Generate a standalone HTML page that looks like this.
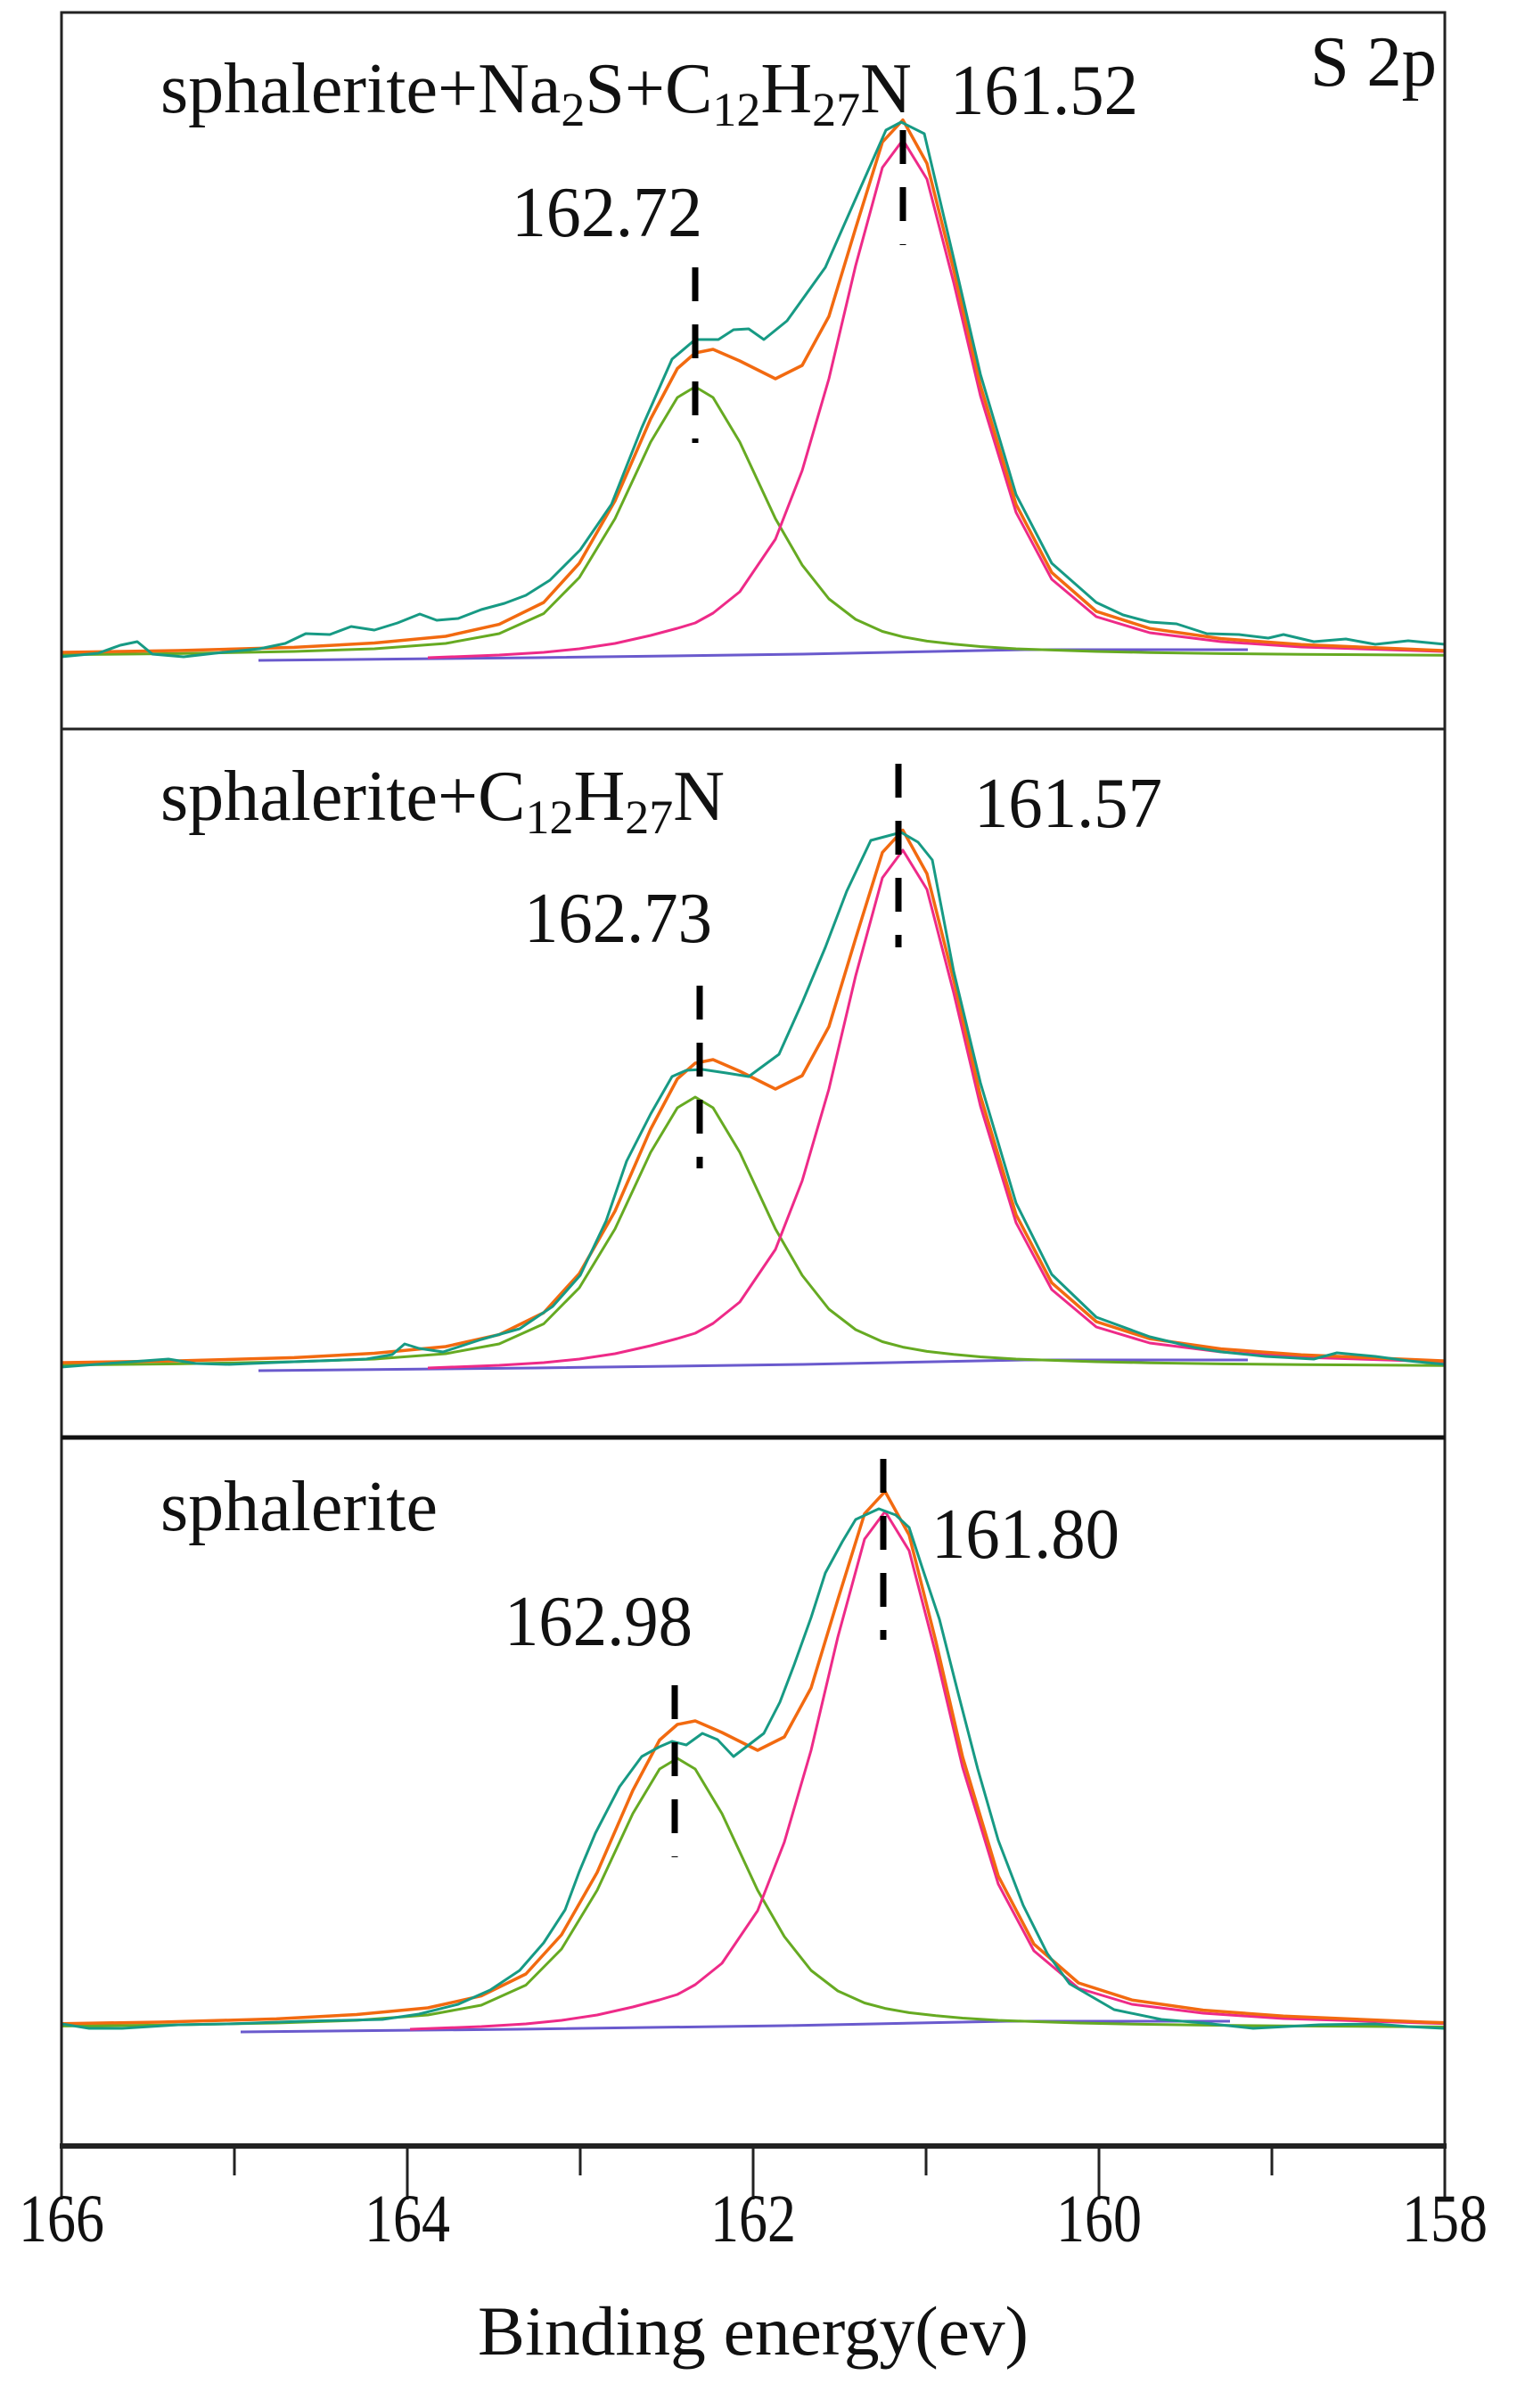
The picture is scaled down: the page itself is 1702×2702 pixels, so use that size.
<!DOCTYPE html>
<html><head><meta charset="utf-8"><style>html,body{margin:0;padding:0;background:#fff}svg{display:block}text{font-family:"Liberation Serif",serif;fill:#111}</style></head>
<body>
<svg width="1702" height="2702" viewBox="0 0 1702 2702" xmlns="http://www.w3.org/2000/svg">
<rect width="1702" height="2702" fill="#fff"/>
<defs>
<clipPath id="cp"><rect x="70" y="14" width="1550" height="2394"/></clipPath>
<g id="fit" fill="none" stroke-linejoin="round">
<polyline stroke="#6a5acd" stroke-width="3" points="290,741 600,738 900,734 1150,729 1400,729"/>
<polyline stroke="#66aa22" stroke-width="3" points="40,735 71,734.6 200,733.4 330,731 420,728 500,722 560,711 610,688.5 650,648 690,582 730,496 760,446 780,434 800,446 830,496 870,582 900,634 930,672 960,695 990,708.5 1013,714.6 1040,719.4 1070,722.8 1100,725.5 1140,728 1180,729.4 1230,731 1290,732.2 1370,733.4 1460,734.3 1619,735.2 1650,735.4"/>
<polyline stroke="#ee2a88" stroke-width="3" points="480,738 560,735 610,732 650,728 690,722 730,713 760,705 780,699 800,688 830,664 870,605 900,528 930,425 960,298 990,188 1013,157 1040,201 1070,317 1100,444 1140,575 1180,650 1230,692 1290,710 1370,720 1460,726 1619,731 1650,732"/>
<polyline stroke="#f26a10" stroke-width="3.5" points="40,732.5 71,732 200,730 330,726.4 420,721.5 500,714 560,700.6 610,676 650,632 690,562 730,470 760,413.5 780,396 800,392 830,405 870,425 900,410 930,355 960,256 990,159.5 1013,134.6 1040,183.4 1070,302.8 1100,432.5 1140,566 1180,642.4 1230,686 1290,705.2 1370,716.6 1460,723.3 1619,730 1650,731"/>
</g>
</defs>
<g clip-path="url(#cp)">
<use href="#fit"/>
<use href="#fit" transform="translate(0,797)"/>
<use href="#fit" transform="translate(-20,1539)"/>
<g fill="none" stroke="#179a84" stroke-width="3" stroke-linejoin="round">
<polyline points="69,737 110,733 135,724 154,720 171,734 206,737 250,732 291,728 320,722 343,711 370,712 394,703 420,707 446,699 471,689 490,696 514,694 540,684 566,677 590,668 617,651 651,617 686,566 720,480 754,403 780,381 806,381 823,370 840,369 857,381 883,360 926,300 960,223 994,146 1011,137 1037,150 1070,290 1100,420 1140,555 1180,632 1230,676 1260,690 1290,698 1320,700 1354,711 1390,712 1423,716 1440,712 1474,720 1510,717 1543,723 1580,719 1621,723"/>
<polyline points="69,1534 120,1530 189,1525 220,1530 257,1531 330,1528 411,1525 440,1520 454,1508 470,1513 497,1517 540,1503 583,1491 620,1466 651,1431 680,1370 703,1303 730,1250 754,1208 770,1201 788,1200 815,1204 840,1208 874,1183 900,1125 926,1063 950,1000 977,943 1011,934 1030,945 1046,965 1070,1090 1100,1215 1140,1350 1180,1430 1230,1478 1290,1500 1340,1512 1371,1517 1420,1522 1474,1525 1500,1518 1543,1522 1580,1527 1621,1531"/>
<polyline points="69,2271 100,2276 137,2276 200,2272 257,2271 340,2268 429,2266 470,2260 514,2249 550,2233 583,2211 610,2180 634,2143 650,2100 668,2057 695,2005 720,1971 740,1960 754,1954 770,1958 788,1945 805,1952 823,1971 840,1958 857,1945 875,1910 891,1868 910,1815 926,1765 945,1730 960,1705 986,1693 1005,1700 1020,1714 1035,1760 1054,1817 1075,1900 1097,1985 1120,2065 1148,2138 1175,2192 1200,2226 1250,2255 1303,2266 1350,2270 1406,2276 1480,2272 1543,2271 1580,2274 1621,2276"/>
</g>
</g>
<rect x="69" y="14" width="1552" height="2394" fill="none" stroke="#222" stroke-width="3"/>
<line x1="69" y1="818" x2="1621" y2="818" stroke="#222" stroke-width="3"/>
<line x1="69" y1="1613" x2="1621" y2="1613" stroke="#111" stroke-width="5"/>
<line x1="67" y1="2408" x2="1623" y2="2408" stroke="#222" stroke-width="6"/>
<g stroke="#222" stroke-width="3">
<line x1="69" y1="2408" x2="69" y2="2468"/><line x1="457" y1="2408" x2="457" y2="2468"/><line x1="845" y1="2408" x2="845" y2="2468"/><line x1="1233" y1="2408" x2="1233" y2="2468"/><line x1="1621" y1="2408" x2="1621" y2="2468"/>
<line x1="263" y1="2408" x2="263" y2="2441"/><line x1="651" y1="2408" x2="651" y2="2441"/><line x1="1039" y1="2408" x2="1039" y2="2441"/><line x1="1427" y1="2408" x2="1427" y2="2441"/>
</g>
<g font-size="76" text-anchor="middle">
<text x="69" y="2515" textLength="96" lengthAdjust="spacingAndGlyphs">166</text><text x="457" y="2515" textLength="96" lengthAdjust="spacingAndGlyphs">164</text><text x="845" y="2515" textLength="96" lengthAdjust="spacingAndGlyphs">162</text><text x="1233" y="2515" textLength="96" lengthAdjust="spacingAndGlyphs">160</text><text x="1621" y="2515" textLength="96" lengthAdjust="spacingAndGlyphs">158</text>
</g>
<text x="845" y="2642" font-size="78" text-anchor="middle" textLength="618" lengthAdjust="spacingAndGlyphs">Binding energy(ev)</text>
<g font-size="80">
<text x="180" y="126">sphalerite+Na<tspan font-size="54" dy="15">2</tspan><tspan dy="-15">S+C</tspan><tspan font-size="54" dy="15">12</tspan><tspan dy="-15">H</tspan><tspan font-size="54" dy="15">27</tspan><tspan dy="-15">N</tspan></text>
<text x="1066" y="128" textLength="211" lengthAdjust="spacingAndGlyphs">161.52</text>
<text x="574" y="265" textLength="214" lengthAdjust="spacingAndGlyphs">162.72</text>
<text x="1470" y="96" textLength="142" lengthAdjust="spacingAndGlyphs">S 2p</text>
<text x="180" y="920">sphalerite+C<tspan font-size="54" dy="15">12</tspan><tspan dy="-15">H</tspan><tspan font-size="54" dy="15">27</tspan><tspan dy="-15">N</tspan></text>
<text x="1093" y="928" textLength="211" lengthAdjust="spacingAndGlyphs">161.57</text>
<text x="588" y="1057" textLength="211" lengthAdjust="spacingAndGlyphs">162.73</text>
<text x="180" y="1717">sphalerite</text>
<text x="1045" y="1748" textLength="211" lengthAdjust="spacingAndGlyphs">161.80</text>
<text x="566" y="1846" textLength="211" lengthAdjust="spacingAndGlyphs">162.98</text>
</g>
<g stroke="#000" stroke-width="7" stroke-dasharray="38,26">
<line x1="1013" y1="146" x2="1013" y2="275"/>
<line x1="780" y1="300" x2="780" y2="497"/>
<line x1="1008" y1="857" x2="1008" y2="1063"/>
<line x1="785" y1="1106" x2="785" y2="1311"/>
<line x1="991" y1="1637" x2="991" y2="1840"/>
<line x1="757" y1="1891" x2="757" y2="2084"/>
</g>
</svg>
</body></html>
